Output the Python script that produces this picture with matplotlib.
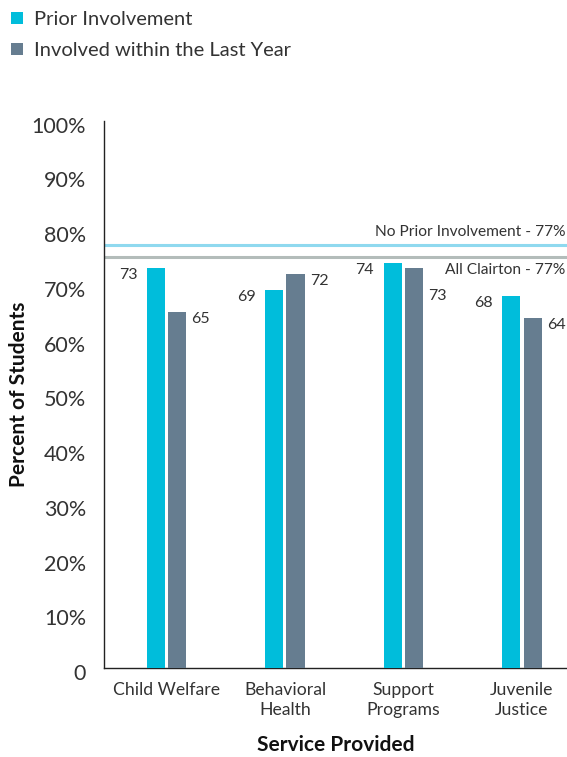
import matplotlib
matplotlib.use("Agg")
import matplotlib.pyplot as plt
import matplotlib.transforms as mtransforms
import numpy as np

categories = ["Child Welfare", "Behavioral\nHealth", "Support\nPrograms", "Juvenile\nJustice"]
prior = [73, 69, 74, 68]
last_year = [65, 72, 73, 64]
series_names = ["Prior Involvement", "Involved within the Last Year"]
ref_levels = [77.3, 75.0]
ref_labels = ["No Prior Involvement - 77%", "All Clairton - 77%"]
yticks = [0, 10, 20, 30, 40, 50, 60, 70, 80, 90, 100]
ytick_labels = ["0"] + [f"{v}%" for v in yticks[1:]]

BLUE = "#00BDDB"
GRAY = "#667D90"
REF_BLUE = "#8FD9EF"
REF_GRAY = "#B3BCBA"
TEXT = "#333333"

plt.rcParams["font.family"] = ["Lato", "DejaVu Sans"]

fig = plt.figure(figsize=(5.67, 7.57), dpi=100)
ax = fig.add_axes([0.1834, 0.1176, 0.8166, 0.7232])

x = np.arange(len(categories))
w = 0.152
off = 0.089

ax.bar(x - off, prior, width=w, color=BLUE, label=series_names[0], zorder=3)
ax.bar(x + off, last_year, width=w, color=GRAY, label=series_names[1], zorder=3)

# value labels beside bars
for i in range(len(categories)):
    ax.annotate(str(prior[i]), (x[i] - off - w / 2, prior[i]), xytext=(-7, -5),
                textcoords="offset points", ha="right", va="center", fontsize=11.5, color=TEXT)
    # the third gray label is pushed down to clear the "All Clairton" text
    dy = -20 if i == 2 else -5
    ax.annotate(str(last_year[i]), (x[i] + off + w / 2, last_year[i]), xytext=(4, dy),
                textcoords="offset points", ha="left", va="center", fontsize=11.5, color=TEXT)

# reference lines
ax.axhline(ref_levels[0], color=REF_BLUE, lw=2.2, zorder=2)
ax.axhline(ref_levels[1], color=REF_GRAY, lw=2.2, zorder=2)
ax.annotate(ref_labels[0], (1.0, ref_levels[0]), xycoords=("axes fraction", "data"),
            xytext=(-1, 4), textcoords="offset points", ha="right", va="bottom",
            fontsize=11.2, color=TEXT)
ax.annotate(ref_labels[1], (1.0, ref_levels[1]), xycoords=("axes fraction", "data"),
            xytext=(-1, -4), textcoords="offset points", ha="right", va="top",
            fontsize=11.2, color=TEXT)

ax.set_xlim(-0.527, 3.38)
ax.set_ylim(0, 100)
ax.set_yticks(yticks)
ax.set_yticklabels(ytick_labels, fontsize=15.5, color=TEXT)
ax.set_xticks(x)
ax.set_xticklabels(categories, fontsize=12.7, color=TEXT, linespacing=1.3)
ax.tick_params(axis="y", length=0, pad=13)
ax.tick_params(axis="x", length=0, pad=10)

# nudge y tick labels slightly downward like the original
shift = mtransforms.ScaledTranslation(0, -3 / 72, fig.dpi_scale_trans)
for lab in ax.get_yticklabels():
    lab.set_transform(lab.get_transform() + shift)

for s in ["top", "right"]:
    ax.spines[s].set_visible(False)
ax.spines["left"].set_color("#222222")
ax.spines["bottom"].set_color("#222222")
ax.spines["left"].set_linewidth(1.0)
ax.spines["bottom"].set_linewidth(1.0)

ax.set_ylabel("Percent of Students", fontsize=15, fontweight="bold", color="#111111")
ax.yaxis.set_label_coords(-0.162, 0.5)
ax.set_xlabel("Service Provided", fontsize=15, fontweight="bold", color="#111111")
ax.xaxis.set_label_coords(0.5, -0.123)

fig.legend(loc="upper left", bbox_to_anchor=(0.0, 1.0), frameon=False, fontsize=14.5,
           handlelength=0.6, handleheight=0.6, handletextpad=0.55, labelspacing=0.7,
           borderaxespad=0.15, labelcolor=TEXT)

fig.savefig("out.png", dpi=100)
